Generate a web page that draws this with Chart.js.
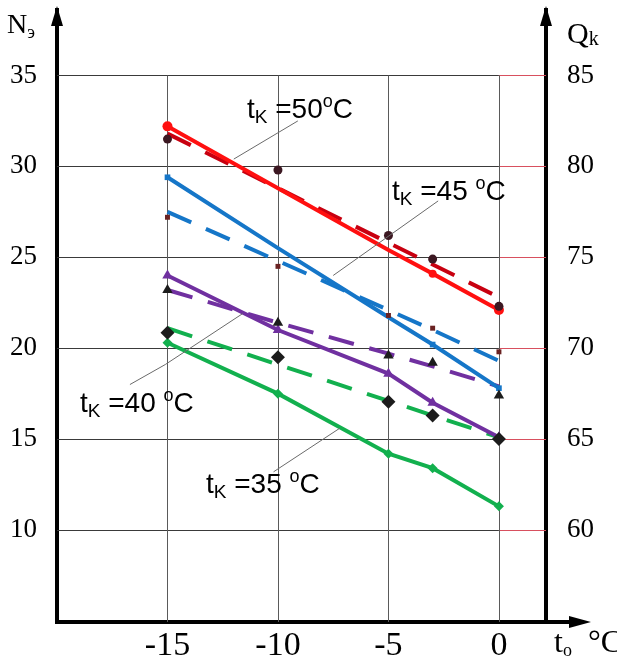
<!DOCTYPE html>
<html lang="ru">
<head>
<meta charset="utf-8">
<title>N, Q = f(t0)</title>
<script src="https://cdn.jsdelivr.net/npm/chart.js@4.4.1/dist/chart.umd.min.js"></script>
<style>
  html, body {margin: 0; padding: 0; background: #fff;}
  #chart {display: block;}
</style>
</head>
<body>
<canvas id="chart" width="617" height="659"></canvas>
<script>
// температура кипения t0, °C
const temps = [-15, -10, -5, -3, 0];
const xTicks = [-15, -10, -5, 0];
const nTicks = [10, 15, 20, 25, 30, 35];
const qTicks = [60, 65, 70, 75, 80, 85];

// мощность Nэ (сплошные линии), для tк = 50, 45, 40, 35
const n50 = [32.2, 28.8, 25.4, 24.1, 22.1];
const n45 = [29.4, 25.5, 21.7, 20.2, 17.8];
const n40 = [24.0, 21.0, 18.6, 17.0, 15.1];
const n35 = [20.3, 17.5, 14.2, 13.4, 11.3];

// Qk (пунктир)
const q50 = [81.8, 78.8, 75.8, 74.6, 72.8];
const q45 = [77.5, 74.8, 72.1, 71.0, 69.3];
const q40 = [73.2, 71.4, 69.7, 69.0, 67.9];
const q35 = [71.1, 69.1, 67.1, 66.3, 65.1];

// Qk, опытные точки (тёмные маркеры)
const q50Points = [81.5, 79.8, 76.2, 74.9, 72.3];
const q45Points = [77.2, 74.5, 71.8, 71.1, 69.8];
const q40Points = [73.2, 71.4, 69.6, 69.2, 67.4];
const q35Points = [70.85, 69.5, 67.05, 66.3, 65.0];

const RED = `#ff1010`;
const DARK_RED = `#c80010`;
const BLUE = `#1576c8`;
const PURPLE = `#7030a0`;
const GREEN = `#12b04e`;

const SERIF = `"Liberation Serif", "DejaVu Serif", serif`;
const SANS = `"Liberation Sans", Arial, sans-serif`;

const toPoints = (values) => values.map((y, i) => ({x: temps[i], y}));

const solidLine = (values, color, pointStyle, radius) => ({
  data: toPoints(values),
  yAxisID: `y`,
  showLine: true,
  borderColor: color,
  backgroundColor: color,
  borderWidth: 4,
  pointStyle,
  pointRadius: radius,
  pointBorderWidth: 0
});

const dashedLine = (values, color) => ({
  data: toPoints(values),
  yAxisID: `y2`,
  showLine: true,
  borderColor: color,
  borderWidth: 4,
  borderDash: [26, 16],
  pointRadius: 0
});

const markers = (values, color, pointStyle, radius) => ({
  data: toPoints(values),
  yAxisID: `y2`,
  showLine: false,
  backgroundColor: color,
  borderColor: color,
  pointStyle,
  pointRadius: radius,
  pointBorderWidth: 0
});

// подписи tк и выноски (концы выносок в координатах графика)
const notes = [
  {value: `50`, tail: ``, x: 247, base: 118, leader: [[-9.1, 32.5], [-12.0, 30.4]]},
  {value: `45`, tail: ` `, x: 392, base: 200, leader: [[-2.75, 28.1], [-7.5, 24.0]]},
  {value: `40`, tail: ` `, x: 80, base: 412, leader: [[-16.7, 18.0], [-15.1, 19.1], [-11.6, 21.9]]},
  {value: `35`, tail: ` `, x: 206, base: 493, leader: [[-10.2, 13.2], [-7.2, 15.6]]}
];

const drawParts = (ctx, x, base, parts) => {
  let cx = x;
  parts.forEach(({text, font, dy = 0}) => {
    ctx.font = font;
    ctx.fillText(text, cx, base + dy);
    cx += ctx.measureText(text).width;
  });
};

const gridPlugin = {
  id: `partialGrid`,
  beforeDatasetsDraw(chart) {
    const {ctx, chartArea, scales: {x, y}} = chart;
    const xZero = x.getPixelForValue(0);
    const yTop = y.getPixelForValue(35);
    ctx.save();
    ctx.lineWidth = 1;
    nTicks.forEach((v) => {
      const py = Math.round(y.getPixelForValue(v)) + 0.5;
      ctx.strokeStyle = `#3a3a3a`;
      ctx.beginPath();
      ctx.moveTo(chartArea.left, py);
      ctx.lineTo(xZero, py);
      ctx.stroke();
      ctx.strokeStyle = `#d8505f`;
      ctx.beginPath();
      ctx.moveTo(xZero, py);
      ctx.lineTo(chartArea.right, py);
      ctx.stroke();
    });
    ctx.strokeStyle = `#5a5a5a`;
    xTicks.forEach((v) => {
      const px = Math.round(x.getPixelForValue(v)) + 0.5;
      ctx.beginPath();
      ctx.moveTo(px, yTop);
      ctx.lineTo(px, chartArea.bottom);
      ctx.stroke();
    });
    ctx.restore();
  }
};

const decorPlugin = {
  id: `decor`,
  afterDraw(chart) {
    const {ctx, chartArea, scales: {x, y}} = chart;
    const {left, right, top, bottom} = chartArea;
    ctx.save();
    ctx.fillStyle = `#000`;
    ctx.strokeStyle = `#000`;

    // стрелки осей
    ctx.lineWidth = 4;
    ctx.beginPath();
    ctx.moveTo(right, bottom);
    ctx.lineTo(572, bottom);
    ctx.stroke();
    const arrow = (pts) => {
      ctx.beginPath();
      ctx.moveTo(...pts[0]);
      ctx.lineTo(...pts[1]);
      ctx.lineTo(...pts[2]);
      ctx.closePath();
      ctx.fill();
    };
    arrow([[left, top - 4], [left - 6, top + 16], [left + 6, top + 16]]);
    arrow([[right, top - 4], [right - 6, top + 16], [right + 6, top + 16]]);
    arrow([[591, bottom], [569, bottom - 6], [569, bottom + 6]]);

    // названия осей
    ctx.textAlign = `left`;
    ctx.textBaseline = `alphabetic`;
    drawParts(ctx, 7, 33, [
      {text: `N`, font: `28px ${SERIF}`},
      {text: `э`, font: `18px ${SERIF}`, dy: 5}
    ]);
    drawParts(ctx, 567, 43, [
      {text: `Q`, font: `30px ${SERIF}`},
      {text: `k`, font: `20px ${SERIF}`, dy: 2}
    ]);
    drawParts(ctx, 554, 652, [
      {text: `t`, font: `32px ${SERIF}`},
      {text: `o`, font: `18px ${SERIF}`, dy: 4},
      {text: `  °C`, font: `32px ${SERIF}`}
    ]);

    // выноски
    ctx.lineWidth = 1;
    ctx.strokeStyle = `#6a6a6a`;
    notes.forEach(({leader}) => {
      ctx.beginPath();
      leader.forEach(([vx, vy], i) => {
        const px = x.getPixelForValue(vx);
        const py = y.getPixelForValue(vy);
        if (i === 0) {
          ctx.moveTo(px, py);
        } else {
          ctx.lineTo(px, py);
        }
      });
      ctx.stroke();
    });

    // подписи tк
    notes.forEach(({value, tail, x: tx, base}) => {
      drawParts(ctx, tx, base, [
        {text: `t`, font: `28px ${SANS}`},
        {text: `K`, font: `19px ${SANS}`, dy: 5},
        {text: ` =${value}${tail}`, font: `28px ${SANS}`},
        {text: `o`, font: `18px ${SANS}`, dy: -11},
        {text: `C`, font: `28px ${SANS}`}
      ]);
    });
    ctx.restore();
  }
};

// убираем запас под крайние подписи, чтобы область графика задавалась точно
const noEdgePadding = (scale) => {
  scale.paddingTop = 0;
  scale.paddingBottom = 0;
  scale.paddingLeft = 0;
  scale.paddingRight = 0;
};

const chart = new Chart(document.getElementById(`chart`), {
  type: `scatter`,
  data: {
    datasets: [
      markers(q50Points, `#3c1822`, `circle`, 4.5),
      markers(q45Points, `#6a2222`, `rect`, 3.5),
      markers(q40Points, `#1c1c1c`, `triangle`, 6),
      markers(q35Points, `#1c1c1c`, `rectRot`, 7),
      solidLine(n50, RED, `circle`, [5, 0, 0, 4, 5]),
      solidLine(n45, BLUE, `rect`, [4, 0, 0, 4, 4]),
      solidLine(n40, PURPLE, `triangle`, 6),
      solidLine(n35, GREEN, `rectRot`, 5),
      dashedLine(q50, DARK_RED),
      dashedLine(q45, BLUE),
      dashedLine(q40, PURPLE),
      dashedLine(q35, GREEN)
    ]
  },
  options: {
    responsive: false,
    animation: false,
    layout: {padding: {top: 10, left: 0, right: 0, bottom: 0}},
    plugins: {
      legend: {display: false},
      tooltip: {enabled: false}
    },
    scales: {
      x: {
        type: `linear`,
        position: `bottom`,
        min: -20,
        max: 2.13,
        grid: {display: false},
        border: {display: true, color: `#000`, width: 4},
        afterBuildTicks: (scale) => {
          scale.ticks = xTicks.map((value) => ({value}));
        },
        afterFit: (scale) => {
          scale.height = 37;
          noEdgePadding(scale);
        },
        ticks: {
          color: `#000`,
          font: {family: SERIF, size: 34},
          padding: -4,
          maxRotation: 0
        }
      },
      y: {
        type: `linear`,
        position: `left`,
        min: 4.94,
        max: 38.6,
        grid: {display: false},
        border: {display: true, color: `#000`, width: 4},
        afterBuildTicks: (scale) => {
          scale.ticks = nTicks.map((value) => ({value}));
        },
        afterFit: (scale) => {
          scale.width = 57;
          noEdgePadding(scale);
        },
        ticks: {
          color: `#000`,
          font: {family: SERIF, size: 27},
          padding: 12
        }
      },
      y2: {
        type: `linear`,
        position: `right`,
        min: 54.94,
        max: 88.6,
        grid: {display: false},
        border: {display: true, color: `#000`, width: 4},
        afterBuildTicks: (scale) => {
          scale.ticks = qTicks.map((value) => ({value}));
        },
        afterFit: (scale) => {
          scale.width = 71;
          noEdgePadding(scale);
        },
        ticks: {
          color: `#000`,
          font: {family: SERIF, size: 27},
          padding: 13
        }
      }
    }
  },
  plugins: [gridPlugin, decorPlugin]
});
</script>
</body>
</html>
